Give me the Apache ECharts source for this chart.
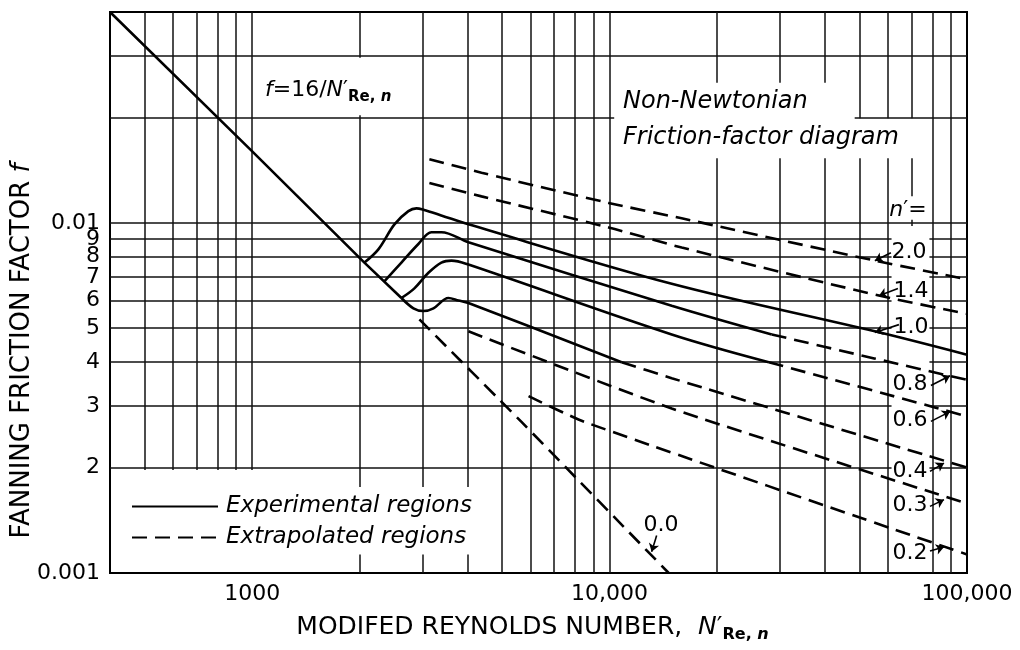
<!DOCTYPE html>
<html><head><meta charset="utf-8">
<script src="https://cdn.jsdelivr.net/npm/echarts@6/dist/echarts.min.js"></script>
<style>html,body{margin:0;padding:0;background:#fff;}#c{width:1020px;height:650px;}</style>
</head><body><div id="c"></div>
<script>
// ---------------- data: [N'Re,n , f] ----------------
const laminar  = [[400,0.04],[1000,0.016],[2060,0.0077],[2615,0.0061]];
const n10Solid = [[2060,0.0077],[2254,0.0084],[2500,0.0099],[2735,0.0108],[2880,0.0110],[3013,0.0109],[3380,0.0105],[4027,0.0099],[14920,0.0067],[55240,0.0049],[100000,0.0042]];
const n08Solid = [[2343,0.0068],[2615,0.0077],[2917,0.0087],[3172,0.0094],[3383,0.0094],[4027,0.0088],[14920,0.0058],[28430,0.0048]];
const n08Dash  = [[28430,0.0048],[55000,0.0041],[100000,0.00356]];
const n06Solid = [[2615,0.0061],[2843,0.0065],[3112,0.0072],[3383,0.0077],[3610,0.0078],[4027,0.0076],[14920,0.0048],[27890,0.0040]];
const n06Dash  = [[27890,0.0040],[81280,0.00297],[100000,0.0028]];
const n04Solid = [[2615,0.0061],[2825,0.0057],[3013,0.0056],[3214,0.0057],[3540,0.0061],[3777,0.0060],[4027,0.0059],[10805,0.0040]];
const n04Dash  = [[10805,0.0040],[14920,0.0036],[100000,0.0020]];
const n20Dash  = [[3131,0.0152],[4381,0.0139],[9936,0.0114],[15910,0.0103],[55240,0.0078],[100000,0.0069]];
const n14Dash  = [[3131,0.0130],[4381,0.0119],[9936,0.0097],[15910,0.0085],[56680,0.0062],[100000,0.0055]];
const n03Dash  = [[4027,0.0049],[14920,0.00295],[100000,0.00158]];
const n02Dash  = [[5932,0.0032],[8511,0.0027],[100000,0.00113]];
const n00Dash  = [[2936,0.0053],[5668,0.0027],[14634,0.001]];

const xGrid = [500,600,700,800,900,1000,2000,3000,4000,5000,6000,7000,8000,9000,10000,20000,30000,40000,50000,60000,70000,80000,90000];
const yGrid = [0.002,0.003,0.004,0.005,0.006,0.007,0.008,0.009,0.01,0.02,0.03];
const xTickValues = [1000,10000,100000];
const xTickText   = ['1000','10,000','100,000'];
const yTickValues = [0.001,0.002,0.003,0.004,0.005,0.006,0.007,0.008,0.009,0.01];
const yTickText   = ['0.001','2','3','4','5','6','7','8','9','0.01'];
const nLabelText  = ['n′=','2.0','1.4','1.0','0.8','0.6','0.4','0.3','0.2'];

// ---------------- helpers ----------------
const FONT = 'DejaVu Sans';
function lookup(vals, texts, v){
  for (let i=0;i<vals.length;i++){ if (Math.abs(Math.log10(v/vals[i]))<1e-6) return texts[i]; }
  return '';
}
function isPow10(v){ const l=Math.log10(v); return Math.abs(l-Math.round(l))<1e-6; }
function cutInterval(iv, a, b){
  const out=[];
  iv.forEach(([s,e])=>{
    if (b<=s || a>=e){ out.push([s,e]); return; }
    if (a>s) out.push([s,a]);
    if (b<e) out.push([b,e]);
  });
  return out;
}
// regions (data space) where the printed ruling is interrupted around lettering
const gridGaps = [
  [1050,2950,0.0203,0.0296],
  [10300,48500,0.0153,0.0251],
  [41000,79000,0.0153,0.0199],
  [61500,78500,0.0102,0.0119],
  [61500,78500,0.0009,0.0098],
  [300,1020,0.0009,0.00197],
  [1000,4800,0.00113,0.00176]
];
const X0=400.05, X1=99990, Y0=0.0010002, Y1=0.039995;
const gridSegs=[];
xGrid.forEach(v=>{
  let iv=[[Y0,Y1]];
  gridGaps.forEach(g=>{ if (v>g[0] && v<g[1]) iv=cutInterval(iv,g[2],g[3]); });
  iv.forEach(([a,b])=>gridSegs.push([{coord:[v,a]},{coord:[v,b]}]));
});
yGrid.forEach(h=>{
  let iv=[[X0,X1]];
  gridGaps.forEach(g=>{ if (h>g[2] && h<g[3]) iv=cutInterval(iv,g[0],g[1]); });
  const txt = isPow10(h) ? '' : lookup(yTickValues,yTickText,h);
  iv.forEach(([a,b],i)=>{
    const p={coord:[a,h]};
    if (i===0 && txt) p.label={show:true,position:'start',formatter:txt,color:'#000',fontSize:22,fontFamily:FONT,distance:10};
    gridSegs.push([p,{coord:[b,h]}]);
  });
});

// leader arrows from the n' labels to their curves
const labelArrows = [
  [[61240,0.00821],[55240,0.00779]],
  [[64080,0.00649],[56680,0.00619]],
  [[64500,0.00512],[55240,0.00486]],
  [[79250,0.00343],[89650,0.00366]],
  [[79250,0.00271],[89650,0.00289]],
  [[78780,0.00195],[86220,0.00206]],
  [[78780,0.00155],[86220,0.00162]],
  [[78780,0.001155],[86220,0.001186]],
  [[13540,0.00128],[13110,0.00115]]
].map(p=>[{coord:p[0]},{coord:p[1]}]);

const EXP='Experimental regions', EXT='Extrapolated regions';
const solidStyle={type:'solid',width:2.6,color:'#000'};
const dashStyle={type:[15,8],width:2.6,color:'#000'};
function ser(name,data,style,smooth){
  return {type:'line',name,data,symbol:'none',showSymbol:false,smooth:smooth,lineStyle:style,
          itemStyle:{color:'#000'},silent:true,z:3,emphasis:{disabled:true}};
}

const series=[
  {type:'line',name:'grid',data:[[400.05,0.0399]],symbol:'none',lineStyle:{opacity:0},silent:true,z:1,
   markLine:{silent:true,symbol:['none','none'],animation:false,z:1,
     lineStyle:{color:'#111',width:1.5,type:'solid'},label:{show:false},emphasis:{disabled:true},
     data:gridSegs}},
  ser(EXP,laminar,solidStyle,0),
  ser(EXP,n10Solid,solidStyle,0.35),
  ser(EXP,n08Solid,solidStyle,0.35),
  ser(EXT,n08Dash,dashStyle,0.2),
  ser(EXP,n06Solid,solidStyle,0.35),
  ser(EXT,n06Dash,dashStyle,0.2),
  ser(EXP,n04Solid,solidStyle,0.35),
  ser(EXT,n04Dash,dashStyle,0.2),
  ser(EXT,n20Dash,dashStyle,0.25),
  ser(EXT,n14Dash,dashStyle,0.25),
  ser(EXT,n03Dash,dashStyle,0.2),
  ser(EXT,n02Dash,dashStyle,0.2),
  Object.assign(ser(EXT,n00Dash,dashStyle,0.1),{
    markLine:{silent:true,symbol:['none','arrow'],symbolSize:8,animation:false,
      lineStyle:{color:'#000',width:1.6,type:'solid'},label:{show:false},emphasis:{disabled:true},
      data:labelArrows}})
];

// label anchor positions (pixels) for the n' column and 0.0 label
const nLabelPos = [[908,210],[909,252],[911,291],[911,327],[910,384],[910,420],[910,471],[910,505],[910,553]];
const graphics = [];
nLabelText.forEach((t,i)=>{
  graphics.push({type:'text',x:nLabelPos[i][0],y:nLabelPos[i][1],z:10,
    style:{text: i===0 ? '{i|n}{r|′=}' : t, fontSize:22,fontFamily:FONT,fill:'#000',align:'center',verticalAlign:'middle',
      rich:{i:{fontSize:22,fontFamily:FONT,fontStyle:'italic'},r:{fontSize:22,fontFamily:FONT}}}});
});
graphics.push({type:'text',x:661,y:525,z:10,style:{text:'0.0',fontSize:22,fontFamily:FONT,fill:'#000',align:'center',verticalAlign:'middle'}});
graphics.push({type:'text',x:22,y:351,rotation:Math.PI/2,z:10,
  style:{text:'FANNING FRICTION FACTOR {i|f}',fontSize:26,fontFamily:FONT,fill:'#000',align:'center',verticalAlign:'middle',
    rich:{i:{fontSize:26,fontFamily:FONT,fontStyle:'italic'}}}});
graphics.push({type:'text',x:265,y:90,z:10,
  style:{text:'{i|f}{r|=16/}{i|N}{r|′}{s|Re, }{si|n}',fontSize:22,fontFamily:FONT,fill:'#000',align:'left',verticalAlign:'middle',
    rich:{
      i:{fontSize:22,fontFamily:FONT,fontStyle:'italic',lineHeight:30,verticalAlign:'middle'},
      r:{fontSize:22,fontFamily:FONT,lineHeight:30,verticalAlign:'middle'},
      s:{fontSize:15,fontFamily:FONT,fontWeight:'bold',lineHeight:16,verticalAlign:'bottom'},
      si:{fontSize:15,fontFamily:FONT,fontWeight:'bold',fontStyle:'italic',lineHeight:16,verticalAlign:'bottom'}}}});
graphics.push({type:'text',x:623,y:102,z:10,style:{text:'Non-Newtonian',fontSize:24,fontFamily:FONT,fontStyle:'italic',fill:'#000',align:'left',verticalAlign:'middle'}});
graphics.push({type:'text',x:623,y:138,z:10,style:{text:'Friction-factor diagram',fontSize:24,fontFamily:FONT,fontStyle:'italic',fill:'#000',align:'left',verticalAlign:'middle'}});

const option={
  animation:false,
  backgroundColor:'#fff',
  color:['#000'],
  grid:{left:110,right:53,top:12,bottom:77,show:true,borderColor:'#000',borderWidth:2},
  legend:{data:[EXP,EXT],orient:'vertical',left:126,top:490,itemWidth:86,itemHeight:14,itemGap:8,selectedMode:false,
    itemStyle:{opacity:0},
    textStyle:{fontFamily:FONT,fontStyle:'italic',fontSize:23,color:'#000',padding:[0,0,0,3]}},
  xAxis:{type:'log',logBase:10,min:400,max:100000,
    axisLine:{show:true,lineStyle:{color:'#000',width:2}},axisTick:{show:false},splitLine:{show:false},
    axisLabel:{formatter:v=>lookup(xTickValues,xTickText,v),fontSize:22,fontFamily:FONT,color:'#000',margin:10},
    name:'MODIFED REYNOLDS NUMBER,  {i|N}{r|′}{s|Re, }{si|n}',nameLocation:'middle',nameGap:38,
    nameTextStyle:{fontSize:25,fontFamily:FONT,color:'#000',padding:[0,12,0,0],
      rich:{
        i:{fontSize:25,fontFamily:FONT,fontStyle:'italic',color:'#000',lineHeight:32,verticalAlign:'middle'},
        r:{fontSize:25,fontFamily:FONT,color:'#000',lineHeight:32,verticalAlign:'middle'},
        s:{fontSize:16,fontFamily:FONT,fontWeight:'bold',color:'#000',lineHeight:16,verticalAlign:'bottom'},
        si:{fontSize:16,fontFamily:FONT,fontWeight:'bold',fontStyle:'italic',color:'#000',lineHeight:16,verticalAlign:'bottom'}}}},
  yAxis:{type:'log',logBase:10,min:0.001,max:0.04,
    axisLine:{show:true,lineStyle:{color:'#000',width:2}},axisTick:{show:false},splitLine:{show:false},
    axisLabel:{formatter:v=>lookup(yTickValues,yTickText,v),fontSize:22,fontFamily:FONT,color:'#000',margin:10}},
  graphic:graphics,
  series:series
};
const chart=echarts.init(document.getElementById('c'),null,{renderer:'canvas'});
chart.setOption(option);
</script></body></html>
